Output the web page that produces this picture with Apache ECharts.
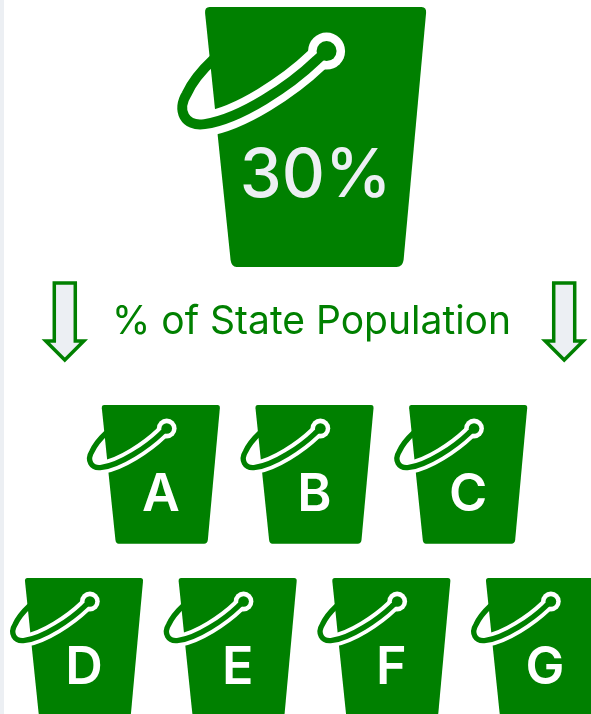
<!DOCTYPE html>
<html>
<head>
<meta charset="utf-8">
<style>
html, body { margin: 0; padding: 0; background: #eceff3; overflow: hidden; }
#main { position: absolute; left: 4px; top: 0; width: 587px; height: 714px; background: #fff; }
</style>
<script src="https://cdn.jsdelivr.net/npm/echarts@6/dist/echarts.min.js"></script>
</head>
<body>
<div id="main"></div>
<script>
var titleText = '% of State Population';
var shareLabels = ['30%'];
var middleLetters = ['A', 'B', 'C'];
var bottomLetters = ['D', 'E', 'F', 'G'];

var GREEN = '#008000';
var PALE = '#eceff3';

// bucket is drawn around the middle of its rim, big bucket size
echarts.graphic.registerShape('bucketBody', echarts.graphic.extendShape({
    shape: {},
    buildPath: function (ctx) {
        ctx.moveTo(-106, 0);
        ctx.lineTo(106, 0);
        ctx.quadraticCurveTo(111, 0, 110.5, 6);
        ctx.lineTo(88, 253);
        ctx.quadraticCurveTo(87, 260, 81, 260);
        ctx.lineTo(-79, 260);
        ctx.quadraticCurveTo(-84, 260, -85, 253);
        ctx.lineTo(-110.5, 6);
        ctx.quadraticCurveTo(-111, 0, -106, 0);
        ctx.closePath();
    }
}));
echarts.graphic.registerShape('bucketHalo', echarts.graphic.extendShape({
    shape: {},
    buildPath: function (ctx) {
        ctx.moveTo(11, 44);
        ctx.lineTo(1, 53);
        ctx.bezierCurveTo(-25, 78, -75, 112, -111, 117);
    }
}));
echarts.graphic.registerShape('bucketHandle', echarts.graphic.extendShape({
    shape: {},
    buildPath: function (ctx) {
        ctx.moveTo(11, 44);
        ctx.lineTo(1, 53);
        ctx.bezierCurveTo(-25, 78, -75, 112, -111, 117);
        ctx.bezierCurveTo(-131, 120, -139, 103, -129, 87);
        ctx.bezierCurveTo(-125, 78, -117, 66, -102, 52);
    }
}));
echarts.graphic.registerShape('downArrow', echarts.graphic.extendShape({
    shape: {},
    buildPath: function (ctx) {
        ctx.moveTo(-10.5, 0);
        ctx.lineTo(10.5, 0);
        ctx.lineTo(10.5, 58);
        ctx.lineTo(19, 58);
        ctx.lineTo(0, 77);
        ctx.lineTo(-19, 58);
        ctx.lineTo(-10.5, 58);
        ctx.closePath();
    }
}));

function renderBucket(params, api) {
    var p = api.coord([api.value(0), api.value(1)]);
    var big = api.value(2) === 1;
    var s = big ? 1 : 0.534;
    return {
        type: 'group',
        children: [{
            type: 'group',
            x: p[0],
            y: p[1],
            scaleX: s,
            scaleY: s,
            children: [
                { type: 'bucketBody', shape: {}, style: { fill: GREEN } },
                { type: 'bucketHalo', shape: {}, style: { fill: 'none', stroke: '#fff', lineWidth: 25 } },
                { type: 'circle', shape: { cx: 11, cy: 44, r: 18.5 }, style: { fill: '#fff' } },
                { type: 'bucketHandle', shape: {}, style: { fill: 'none', stroke: GREEN, lineWidth: 10 } },
                { type: 'circle', shape: { cx: 11, cy: 44, r: 10 }, style: { fill: GREEN } }
            ]
        }, {
            type: 'text',
            x: p[0],
            y: p[1] + (big ? 170 : 90),
            style: {
                text: api.value(3),
                fill: big ? PALE : '#fff',
                font: (big ? '500 67px' : '600 52px') + ' Inter',
                align: 'center',
                verticalAlign: 'middle'
            }
        }]
    };
}

function renderArrow(params, api) {
    var p = api.coord([api.value(0), api.value(1)]);
    return {
        type: 'downArrow',
        x: p[0],
        y: p[1],
        shape: {},
        style: { fill: PALE, stroke: GREEN, lineWidth: 3.5 }
    };
}

// col / row are slots on the hidden axes
var bucketData = [];
shareLabels.forEach(function (t) { bucketData.push([1.507, -2.3, 1, t]); });
middleLetters.forEach(function (t, i) { bucketData.push([i + 0.5, 0, 0, t]); });
bottomLetters.forEach(function (t, i) { bucketData.push([i, 1, 0, t]); });

var arrowData = [[-0.125, -0.705], [3.125, -0.705]];

var chart = echarts.init(document.getElementById('main'));
chart.setOption({
    animation: false,
    title: {
        text: titleText,
        left: 103,
        top: 298,
        textStyle: { color: GREEN, fontFamily: 'Inter', fontWeight: 400, fontSize: 39 }
    },
    grid: { left: 80, width: 461, top: 405, height: 173 },
    xAxis: { type: 'value', min: 0, max: 3, show: false },
    yAxis: { type: 'value', min: 0, max: 1, inverse: true, show: false },
    series: [
        { type: 'custom', renderItem: renderArrow, data: arrowData, clip: false, silent: true },
        { type: 'custom', renderItem: renderBucket, data: bucketData, clip: false, silent: true,
          encode: { x: 0, y: 1 }, dimensions: ['col', 'row', 'big', { name: 'label', type: 'ordinal' }] }
    ]
});
</script>
</body>
</html>
